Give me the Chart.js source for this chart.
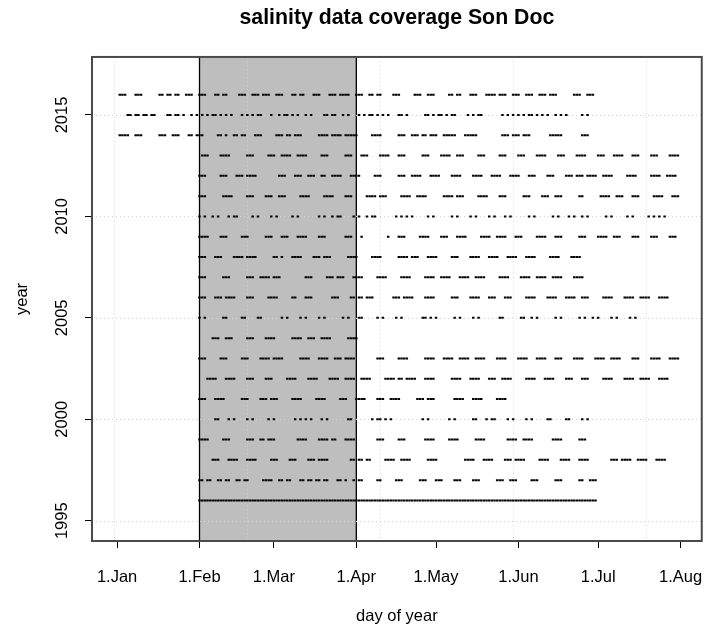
<!DOCTYPE html>
<html><head><meta charset="utf-8">
<script src="https://cdn.jsdelivr.net/npm/chart.js@4/dist/chart.umd.min.js"></script>
<style>html,body{margin:0;padding:0;background:#fff}#wrap{width:705px;height:627px}</style>
</head><body><div id="wrap"><canvas id="c" width="705" height="627"></canvas></div>
<script>
const chartTitle = 'salinity data coverage Son Doc';
const xTitle = 'day of year';
const yTitle = 'year';
const monthTickDays = [1, 32, 60, 91, 121, 152, 182, 213];
const monthLabels = ['1.Jan', '1.Feb', '1.Mar', '1.Apr', '1.May', '1.Jun', '1.Jul', '1.Aug'];
const yearTicks = [1995, 2000, 2005, 2010, 2015];
const gridDays = [0, 50, 100, 150, 200];
const bandStartDay = 32;   // 1 Feb
const bandEndDay = 91;     // 1 Apr

// sampled days per year: [first, last] runs of consecutive days, or a single day
const days2016 = [[2,4],[8,10],[17,18],[20,21],[23,24],[27,29],[32,34],[38,39],[41,42],[47,49],[52,54],[56,58],[61,63],[67,68],[70,71],[75,77],[81,83],[85,88],[91,93],[96,97],[99,100],[105,107],[113,115],[118,120],[126,127],[129,130],[134,136],[140,143],[145,147],[150,152],[155,157],[160,162],[164,166],[173,175],[178,180]];
const days2015 = [5,6,8,9,11,12,14,15,20,21,23,24,26,29,31,33,35,37,38,40,42,44,48,50,52,54,55,59,62,64,65,67,69,72,74,79,80,82,83,86,88,92,94,96,97,99,101,103,107,108,110,117,118,120,122,123,125,127,128,133,135,137,138,146,148,150,152,154,156,157,159,161,163,166,168,170,176,178];
const days2014 = [[2,5],[8,10],[17,19],[22,24],[28,29],[31,33],[39,40],42,[45,46],[48,49],[53,55],[61,63],[65,66],[68,70],[77,80],[82,85],[87,91],[97,100],[107,109],[112,114],[116,117],[119,121],[124,128],[132,136],[146,148],[150,152],[154,156],[164,168],[176,178]];
const days2013 = [[33,35],[40,43],[50,52],[58,60],[63,66],[69,72],[78,80],[87,89],[93,95],[100,103],[107,109],[116,118],[123,126],[129,131],[137,139],[145,147],[152,154],[159,162],[167,169],[174,177],[182,184],[188,191],[195,197],[202,204],[209,212]];
const days2012 = [[32,34],[40,42],[46,48],[50,53],[62,64],[68,70],[73,75],[78,79],[82,85],[89,92],[98,100],[107,109],[112,115],[119,122],[127,130],[135,138],[142,145],[149,152],[156,158],[163,165],[170,172],[174,176],[178,181],[184,187],[193,196],[202,205],[208,211]];
const days2011 = [[32,34],[41,44],[50,52],[57,59],[62,64],[70,73],[79,82],[87,89],[95,98],[100,102],[108,111],[114,117],[124,127],[129,131],[137,140],[145,147],[154,156],[161,163],[166,168],[175,176],[183,186],[189,191],[195,197],[203,206],[210,212]];
const days2010 = [32,34,37,39,43,45,46,52,54,59,61,67,69,77,79,82,84,85,90,92,95,97,98,106,108,110,112,118,120,127,129,134,136,141,143,147,149,156,158,165,167,171,173,176,178,185,187,193,195,201,203,205,207];
const days2009 = [[32,35],[40,42],[48,50],[57,59],[63,65],[69,72],[77,79],[87,89],93,103,[107,109],[115,118],[123,125],[129,132],[138,141],[144,147],[151,153],[159,162],[166,168],[175,177],[182,185],[188,190],[195,197],[202,204],[209,211]];
const days2008 = [[32,34],[38,40],[45,48],[50,53],[60,61],63,[67,70],[75,77],[79,81],[88,91],[97,100],[107,110],[112,114],[118,121],[127,129],[134,137],[141,144],[148,151],[155,158],[164,167],[172,175]];
const days2007 = [[32,34],[41,43],[50,52],[55,58],[60,62],[72,74],[80,82],[84,86],[90,93],[99,102],[108,111],[117,120],[123,126],[130,133],[136,139],[145,148],[153,156],[159,162],[165,168],[173,176]];
const days2006 = [[32,34],[38,40],[42,45],[50,52],[58,61],[67,68],[72,74],[82,84],[89,90],[92,93],[95,97],[105,107],[109,112],[117,120],[127,129],[134,137],[141,143],[147,149],[155,158],[163,166],[170,173],[176,178],[184,187],[192,195],[198,201],[205,208]];
const days2005 = [32,34,41,42,48,49,54,55,63,65,70,72,77,79,86,88,92,93,99,101,106,108,116,117,119,121,128,130,135,137,145,146,153,154,157,159,166,168,175,177,180,182,187,189,194,196];
const days2004 = [[37,39],[42,44],[50,52],[57,60],[67,70],[73,75],[78,81],[88,91]];
const days2003 = [[32,34],[40,42],[48,50],[55,58],[60,63],[70,73],[77,80],[83,85],[87,90],[99,101],[107,110],[117,120],[124,127],[130,133],[136,139],[144,147],[152,155],[159,162],[166,168],[173,176],[181,184],[187,190],[195,197],[202,205],[209,212]];
const days2002 = [[35,38],[42,45],[50,52],[57,59],[65,68],[73,76],[81,84],[87,90],[93,96],[102,105],[107,108],[110,113],[117,120],[127,130],[134,137],[141,143],[146,149],[155,158],[162,165],[170,172],[176,178],[184,187],[192,195],[198,201],[205,208]];
const days2001 = [[32,34],[38,41],[48,50],[55,57],[59,61],[67,70],[76,79],[85,87],[91,94],[99,101],[104,107],[114,116],[118,120],[128,131],[135,138],[144,147]];
const days2000 = [38,39,43,45,50,52,58,60,68,70,72,74,78,80,88,89,97,99,100,102,104,116,118,126,128,135,136,140,142,143,148,150,155,157,163,164,170,171,176,178];
const days1999 = [[32,35],[41,43],[50,52],[55,56],[58,60],[69,72],[77,80],[82,83],[87,90],[99,101],[107,109],[117,120],[126,129],[136,139],[148,151],[154,157],[165,168],[175,177]];
const days1998 = [[37,39],[43,46],[50,53],[59,61],[66,68],[73,75],[77,80],[89,90],[92,93],[95,96],[102,105],[108,111],[118,121],[132,135],[139,142],[147,149],[151,154],[160,163],[168,171],[175,178],[187,189],[191,194],[197,200],[204,207]];
const days1997 = [[32,33],[35,36],[39,40],[42,43],[46,47],[49,50],[56,59],[62,63],[65,66],[70,71],[73,74],[76,77],[79,80],[84,85],87,90,[92,93],[99,100],[106,108],[115,117],[121,123],[128,130],[135,137],[144,146],[149,151],[157,159],[166,168],[175,176],[179,181]];
const days1996 = [[32,181]];

const years = [1996,1997,1998,1999,2000,2001,2002,2003,2004,2005,2006,2007,2008,2009,2010,2011,2012,2013,2014,2015,2016];
const daysByYear = [days1996,days1997,days1998,days1999,days2000,days2001,days2002,days2003,days2004,days2005,days2006,days2007,days2008,days2009,days2010,days2011,days2012,days2013,days2014,days2015,days2016];

const FONT = '"Liberation Sans", Arial, Helvetica, sans-serif';
const AXIS_SIZE = 16.5;

const points = [];
years.forEach((yr, i) => {
  daysByYear[i].forEach(e => {
    const [a, b] = Array.isArray(e) ? e : [e, e];
    for (let d = a; d <= b; d++) points.push({ x: d, y: yr });
  });
});

const framePlugin = {
  id: 'frame',
  beforeDatasetsDraw(chart) {
    const { ctx, chartArea: a, scales: { x, y } } = chart;
    const x0 = x.getPixelForValue(bandStartDay), x1 = x.getPixelForValue(bandEndDay);
    ctx.save();
    ctx.fillStyle = '#bebebe';
    ctx.fillRect(x0, a.top, x1 - x0, a.bottom - a.top);
    ctx.strokeStyle = '#000';
    ctx.lineWidth = 1.3;
    ctx.beginPath();
    ctx.moveTo(x0, a.top); ctx.lineTo(x0, a.bottom);
    ctx.moveTo(x1, a.top); ctx.lineTo(x1, a.bottom);
    ctx.stroke();
    ctx.strokeStyle = '#d3d3d3';
    ctx.lineWidth = 1;
    ctx.setLineDash([1, 3]);
    ctx.beginPath();
    gridDays.forEach(d => {
      const px = Math.round(x.getPixelForValue(d)) + 0.5;
      ctx.moveTo(px, a.top); ctx.lineTo(px, a.bottom);
    });
    yearTicks.forEach(v => {
      const py = Math.round(y.getPixelForValue(v)) + 0.5;
      ctx.moveTo(a.left, py); ctx.lineTo(a.right, py);
    });
    ctx.stroke();
    ctx.restore();
  },
  afterDraw(chart) {
    const { ctx, chartArea: a } = chart;
    ctx.save();
    ctx.strokeStyle = '#4a4a4a';
    ctx.lineWidth = 2;
    ctx.strokeRect(a.left, a.top, a.right - a.left, a.bottom - a.top);
    ctx.restore();
  }
};

new Chart(document.getElementById('c'), {
  type: 'scatter',
  data: {
    datasets: [{
      data: points,
      pointStyle: 'line',
      pointRadius: 1.25,
      pointHoverRadius: 1.25,
      borderColor: '#000',
      backgroundColor: '#000',
      borderWidth: 2
    }]
  },
  options: {
    responsive: false,
    animation: false,
    events: [],
    layout: { padding: { left: 0, right: 2, top: 0, bottom: 0 } },
    plugins: {
      legend: { display: false },
      tooltip: { enabled: false },
      title: {
        display: true, text: chartTitle, fullSize: false, color: '#000',
        font: { family: FONT, size: 21.3, weight: 'bold', lineHeight: 1.2 },
        padding: { top: 5.2, bottom: 26.2 }
      }
    },
    scales: {
      x: {
        type: 'linear', position: 'bottom', min: -8.45, max: 220.97,
        afterBuildTicks: s => { s.ticks = monthTickDays.map(v => ({ value: v })); },
        afterFit: s => { s.height = 86; s.paddingLeft = 0; s.paddingRight = 0; },
        ticks: {
          autoSkip: false, maxRotation: 0, color: '#000', padding: 19.5,
          font: { family: FONT, size: AXIS_SIZE, lineHeight: 1.2 },
          callback: v => monthLabels[monthTickDays.indexOf(v)]
        },
        grid: { drawOnChartArea: false, drawTicks: true, tickLength: 7, color: '#000', tickColor: '#000', tickWidth: 1 },
        border: { display: false },
        title: {
          display: true, text: xTitle, color: '#000',
          font: { family: FONT, size: AXIS_SIZE, lineHeight: 1.2 },
          padding: { top: 0, bottom: 0.5 }
        }
      },
      y: {
        type: 'linear', position: 'left', min: 1994.0, max: 2017.86,
        afterBuildTicks: s => { s.ticks = yearTicks.map(v => ({ value: v })); },
        afterFit: s => { s.width = 92; s.paddingTop = 0; s.paddingBottom = 0; },
        ticks: {
          minRotation: 90, maxRotation: 90, crossAlign: 'center', color: '#000', padding: 4.5,
          font: { family: FONT, size: AXIS_SIZE, lineHeight: 1.2 },
          callback: v => String(v)
        },
        grid: { drawOnChartArea: false, drawTicks: true, tickLength: 7, color: '#000', tickColor: '#000', tickWidth: 1 },
        border: { display: false },
        title: {
          display: true, text: yTitle, color: '#000',
          font: { family: FONT, size: AXIS_SIZE, lineHeight: 1.2 },
          padding: { top: 12.1, bottom: 0 }
        }
      }
    }
  },
  plugins: [framePlugin]
});
</script></body></html>
